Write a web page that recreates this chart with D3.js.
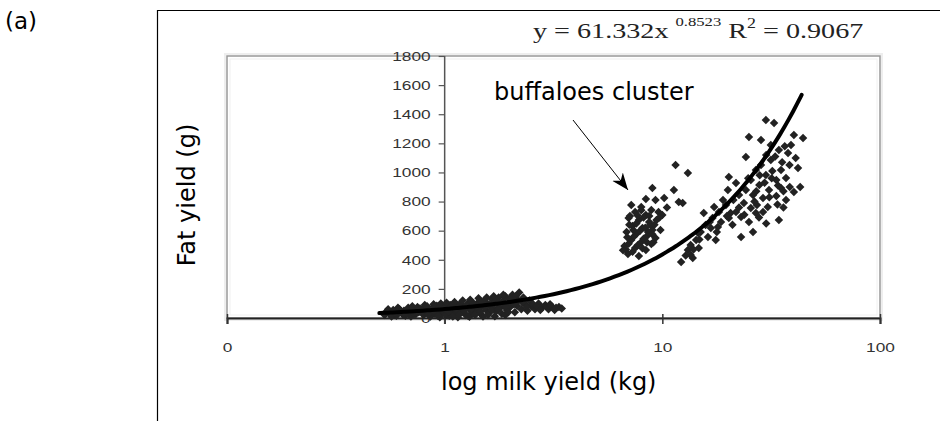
<!DOCTYPE html>
<html>
<head>
<meta charset="utf-8">
<script src="https://cdn.jsdelivr.net/npm/d3@7"></script>
<style>
  html, body { margin: 0; padding: 0; background: #fff; }
  svg { display: block; }
  .tick-label { font-family: Arial, "Liberation Sans", sans-serif; font-size: 13.5px; fill: #333; }
  .title { font-family: "DejaVu Sans", Verdana, sans-serif; fill: #000; }
</style>
</head>
<body>
<div id="chart"></div>
<script>
// x ticks (log scale, first one is printed as "0") and y ticks
const xTicks = [0.1, 1, 10, 100];
const xTickLabels = ["0", "1", "10", "100"];
const yTicks = [0, 200, 400, 600, 800, 1000, 1200, 1400, 1600, 1800];

// fitted power trend y = a * x^b
const trendA = 61.332;
const trendB = 0.8523;
const trendR2 = 0.9067;
const trendRange = [0.5, 44];

// [milk yield kg, fat yield g]
const lowCluster = [
  [0.53,20],[0.54,45],[0.56,30],[0.58,55],[0.6,15],[0.6,40],[0.62,60],[0.64,25],[0.65,50],[0.67,35],
  [0.68,70],[0.7,10],[0.7,45],[0.72,60],[0.73,25],[0.75,75],[0.76,40],[0.78,55],[0.8,20],[0.8,65],
  [0.82,35],[0.83,80],[0.85,50],[0.86,10],[0.88,70],[0.9,30],[0.9,60],[0.92,85],[0.94,45],[0.95,20],
  [0.95,5],[0.97,70],[0.98,55],[1.0,35],[1.0,80],[1.03,60],[1.05,15],[1.06,90],[1.08,45],[1.1,70],
  [1.12,30],[1.14,85],[1.15,5],[1.16,55],[1.18,100],[1.2,40],[1.22,75],[1.25,20],[1.27,95],[1.3,60],
  [1.3,8],[1.32,110],[1.35,35],[1.37,80],[1.4,50],[1.42,105],[1.45,70],[1.47,25],[1.5,90],[1.5,10],
  [1.52,120],[1.55,55],[1.57,100],[1.6,35],[1.62,80],[1.65,130],[1.67,65],[1.7,110],[1.7,12],[1.72,45],
  [1.75,90],[1.77,140],[1.8,70],[1.83,30],[1.85,115],[1.88,85],[1.9,150],[1.9,20],[1.93,55],[1.95,100],
  [1.98,130],[2.0,75],[2.05,160],[2.1,40],[2.1,110],[2.15,85],[2.2,175],[2.25,60],[2.3,140],[2.35,95],
  [2.4,50],[2.45,120],[2.5,80],[2.6,60],[2.7,100],[2.8,70],[2.9,90],[3.0,60],[3.1,80],[3.2,55],
  [3.35,75],[3.45,65],
  [0.55,60],[0.57,10],[0.59,35],[0.61,70],[0.63,45],[0.66,15],[0.69,55],[0.71,80],[0.74,30],[0.77,65],
  [0.79,45],[0.81,90],[0.84,25],[0.87,60],[0.89,95],[0.91,40],[0.93,15],[0.96,100],[0.99,65],[1.01,20],
  [1.02,105],[1.04,45],[1.07,75],[1.09,10],[1.11,110],[1.13,60],[1.17,25],[1.19,70],[1.21,120],[1.23,50],
  [1.26,85],[1.28,15],[1.31,125],[1.33,65],[1.36,100],[1.38,20],[1.41,75],[1.43,135],[1.46,45],[1.48,110],
  [1.53,70],[1.56,140],[1.58,20],[1.61,95],[1.64,55],[1.68,150],[1.73,120],[1.76,60],[1.81,100],[1.86,160],
  [1.91,75],[1.96,40],[2.02,135],[2.08,95],[2.12,150],[2.18,120],[2.28,105],[2.38,75],[2.55,95],[2.65,80],
  [2.75,55],[2.95,75],[3.05,95],[3.25,70]
];

const buffaloes = [
  [11.5,1051],[13.1,996],[9.0,893],[11.3,879],[11.9,797],[8.4,818],[9.3,811],[10.2,824],
  [7.2,776],[8.0,763],[8.9,742],[9.6,728],[7.5,728],[8.4,708],[7.0,687],[7.8,673],[8.7,660],
  [9.4,673],[7.3,632],[8.1,618],[9.0,605],[6.85,591],[7.6,577],[8.5,563],[9.3,550],[7.2,536],
  [8.0,522],[8.9,508],[6.7,495],[7.5,481],[8.4,467],[6.95,440],[7.8,426],[9.8,605],[10.0,708],
  [7.1,700],[7.6,650],[8.2,690],[8.8,640],[7.9,600],[8.6,590],[7.4,560],[8.2,545],[9.0,575],
  [7.0,510],[7.7,500],[8.5,520],[6.8,470],[7.3,455],[8.1,480],[9.2,640],[8.0,740],[7.35,605],
  [6.9,555],[8.7,700],[9.1,520],[7.05,640],[8.35,620],[7.7,705],[6.6,465],[10.5,760],[9.7,690],[12.4,790]
];

const cows = [
  [29.9,1360],[32.6,1340],[25.0,1243],[40.2,1257],[44.3,1237],[24.2,1106],[37.8,1134],[42.0,1030],
  [40.2,866],[20.2,969],[30.5,763],[26.9,721],[34.3,673],[26.1,591],[23.0,556],[20.0,879],[21.8,927],
  [15.5,721],[17.3,763],[19.0,811],[20.6,721],[23.0,694],[14.6,584],[16.2,556],[18.0,625],[13.1,467],
  [13.8,412],[12.2,385],[23.7,790],[28.4,1051],[31.5,1085],[35.1,1017],[29.9,982],[33.4,948],[37.0,962],
  [27.9,914],[30.9,879],[35.1,893],[29.0,824],[33.4,838],[37.0,811],[26.1,845],[38.4,1051],[34.3,1154],
  [31.5,1188],[39.0,1188],[26.9,1017],[25.5,948],[28.4,1223],[15.8,639],[17.0,687],[18.2,728],[19.6,776],
  [21.2,811],[22.5,845],[24.2,879],[15.0,591],[14.3,536],[13.5,501],[16.7,618],[18.6,660],[20.2,687],
  [21.8,728],[13.5,433],[14.7,481],[17.6,536],[25.0,660],[27.2,776],[29.0,728],[25.5,756],
  [27.0,870],[29.5,930],[31.8,960],[34.0,910],[36.0,870],[32.0,1010],[30.0,1120],[33.0,1110],[28.0,980],
  [35.5,1070],[36.5,1180],[24.8,960],[26.5,800],[31.0,830],[33.8,780],[38.5,900],[22.5,760],[19.8,700],
  [16.5,660],[14.8,540],[13.9,470],[12.8,430],[17.8,590],[21.0,640],[23.8,710],[27.8,690],[41.0,1100],
  [43.0,900],[36.0,760],[30.0,650]
];

const width = 940;
const height = 421;
const plot = { left: 227, right: 880, top: 56, bottom: 318 };
const stretch = 1.28; // the pasted chart bitmap is wider than tall

const svg = d3.select("#chart").append("svg").attr("width", width).attr("height", height);

const x = d3.scaleLog().domain([0.1, 100]).range([plot.left, plot.right]);
const y = d3.scaleLinear().domain([0, 1800]).range([plot.bottom, plot.top]);

// panel letter and outer frame
svg.append("text").attr("class", "title").attr("x", 5).attr("y", 29).attr("font-size", 23).text("(a)");
svg.append("path").attr("d", `M157.5,${height} V10.5 H${width}`).attr("fill", "none").attr("stroke", "#000").attr("stroke-width", 1.2);

// equation
const eq = svg.append("text")
  .attr("transform", `translate(533,38) scale(${stretch},1)`)
  .attr("font-family", "'Liberation Serif', 'Times New Roman', serif").attr("font-size", 22).attr("fill", "#222");
eq.append("tspan").text(`y = ${trendA}x `);
eq.append("tspan").attr("font-size", 13).attr("dy", -12).text(`${trendB}`);
eq.append("tspan").attr("dy", 12).text(" R");
eq.append("tspan").attr("font-size", 14).attr("dy", -10).text("2");
eq.append("tspan").attr("dy", 10).text(` = ${trendR2}`);

// plot frame
svg.append("rect").attr("x", plot.left - 2).attr("y", plot.top - 2).attr("width", plot.right - plot.left + 4).attr("height", plot.bottom - plot.top + 4)
  .attr("fill", "none").attr("stroke", "#eee").attr("stroke-width", 2);
svg.append("rect").attr("x", plot.left).attr("y", plot.top).attr("width", plot.right - plot.left).attr("height", plot.bottom - plot.top)
  .attr("fill", "#fff").attr("stroke", "#999").attr("stroke-width", 1.5);
svg.append("rect").attr("x", plot.left + 3).attr("y", plot.top + 3).attr("width", plot.right - plot.left - 6).attr("height", plot.bottom - plot.top - 6)
  .attr("fill", "none").attr("stroke", "#f0f0f0").attr("stroke-width", 1);

// y axis crossing at x = 1
const yAxisG = svg.append("g").attr("transform", `translate(${x(1)},0)`)
  .call(d3.axisLeft(y).tickValues(yTicks).tickSize(6).tickFormat((d) => `${d}`));
yAxisG.select(".domain").attr("stroke", "#555").attr("stroke-width", 1.5).attr("d", `M0,${plot.top}V${plot.bottom + 6}`);
yAxisG.selectAll(".tick line").attr("stroke", "#555").attr("stroke-width", 1.2);
yAxisG.selectAll(".tick text").attr("class", "tick-label").attr("font-size", null).attr("font-family", null)
  .attr("x", -14 / stretch).attr("transform", `scale(${stretch},1)`);

// x axis
const xAxisG = svg.append("g").attr("transform", `translate(0,${plot.bottom})`)
  .call(d3.axisBottom(x).tickValues(xTicks).tickSize(6).tickFormat((d, i) => xTickLabels[i]));
xAxisG.select(".domain").attr("stroke", "#222").attr("stroke-width", 2);
xAxisG.selectAll(".tick line").attr("stroke", "#333").attr("stroke-width", 1.5).attr("y1", -4);
xAxisG.selectAll(".tick text").attr("class", "tick-label").attr("font-size", null).attr("font-family", null)
  .attr("y", 24).attr("transform", `scale(${stretch},1)`);

// points
const diamond = (s) => `M0,${-s / 2} L${s / 2},0 L0,${s / 2} L${-s / 2},0 Z`;
svg.append("g").selectAll("path")
  .data([...lowCluster, ...buffaloes, ...cows])
  .join("path")
  .attr("d", diamond(8.5))
  .attr("fill", "#222")
  .attr("transform", (d) => `translate(${x(d[0])},${y(d[1])})`);

// trend line
const trendX = d3.ticks(Math.log10(trendRange[0]), Math.log10(trendRange[1]), 80).map((e) => Math.pow(10, e));
svg.append("path")
  .datum(trendX)
  .attr("fill", "none").attr("stroke", "#000").attr("stroke-width", 4).attr("stroke-linecap", "round")
  .attr("d", d3.line().x((d) => x(d)).y((d) => y(trendA * Math.pow(d, trendB))).curve(d3.curveBasis));

// annotation
svg.append("text").attr("class", "title").attr("x", 494).attr("y", 100).attr("font-size", 24).text("buffaloes cluster");
svg.append("defs").append("marker").attr("id", "arrow").attr("viewBox", "0 0 10 10").attr("refX", 10).attr("refY", 5)
  .attr("markerWidth", 17).attr("markerHeight", 17).attr("markerUnits", "userSpaceOnUse").attr("orient", "auto")
  .append("path").attr("d", "M0,1 L10,5 L0,9 L3,5 Z").attr("fill", "#000");
svg.append("line").attr("x1", 573).attr("y1", 120).attr("x2", 628).attr("y2", 190)
  .attr("stroke", "#000").attr("stroke-width", 1).attr("marker-end", "url(#arrow)");

// axis titles
svg.append("text").attr("class", "title").attr("text-anchor", "middle").attr("font-size", 24)
  .attr("transform", "translate(195,195) rotate(-90)").text("Fat yield (g)");
svg.append("text").attr("class", "title").attr("font-size", 24)
  .attr("x", 441).attr("y", 390).text("log milk yield (kg)");
</script>
</body>
</html>
